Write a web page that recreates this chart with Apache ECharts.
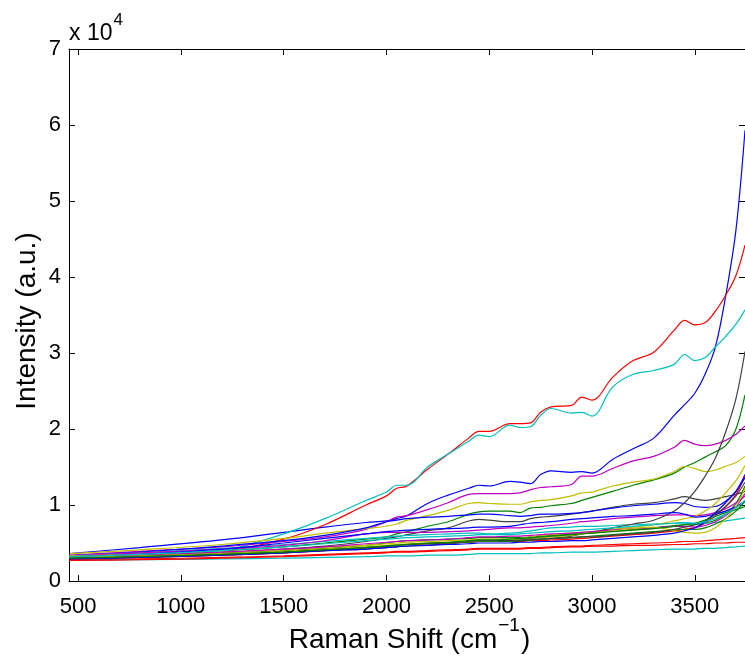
<!DOCTYPE html>
<html>
<head>
<meta charset="utf-8">
<script src="https://cdn.jsdelivr.net/npm/echarts@6/dist/echarts.min.js"></script>
<style>
  html, body { margin: 0; padding: 0; background: #fff; }
  #chart { width: 745px; height: 661px; }
</style>
</head>
<body>
<div id="chart"></div>
<script>
// Raman shift sample positions (cm^-1), shared by every spectrum
const ramanShift = [459, 800, 1200, 1500, 1700, 1900, 2000, 2050, 2100, 2200, 2300, 2400, 2450, 2500, 2600, 2650, 2700, 2750, 2800, 2900, 2950, 3000, 3100, 3200, 3300, 3400, 3450, 3500, 3550, 3600, 3650, 3700, 3744];

// Intensities in units of 10^4 counts, one array per spectrum (plot order)
const spec01 = [0.36, 0.44, 0.54, 0.64, 0.71, 0.77, 0.79, 0.82, 0.86, 1.02, 1.13, 1.22, 1.26, 1.25, 1.31, 1.30, 1.28, 1.40, 1.45, 1.43, 1.44, 1.42, 1.60, 1.74, 1.88, 2.18, 2.32, 2.47, 2.72, 3.08, 3.75, 4.62, 5.93];
const spec02 = [0.32, 0.35, 0.40, 0.45, 0.50, 0.55, 0.58, 0.62, 0.65, 0.72, 0.78, 0.88, 0.91, 0.92, 0.92, 0.90, 0.96, 0.97, 0.99, 1.02, 1.06, 1.10, 1.18, 1.26, 1.33, 1.42, 1.50, 1.56, 1.63, 1.70, 1.78, 2.00, 2.45];
const spec03 = [0.30, 0.33, 0.38, 0.55, 0.74, 1.00, 1.12, 1.22, 1.25, 1.47, 1.67, 1.88, 1.97, 1.97, 2.07, 2.07, 2.08, 2.22, 2.29, 2.31, 2.42, 2.38, 2.68, 2.90, 3.01, 3.30, 3.43, 3.37, 3.40, 3.55, 3.76, 4.02, 4.42];
const spec04 = [0.31, 0.34, 0.40, 0.62, 0.82, 1.06, 1.17, 1.26, 1.26, 1.50, 1.67, 1.84, 1.92, 1.90, 2.05, 2.02, 2.03, 2.18, 2.27, 2.21, 2.22, 2.17, 2.55, 2.72, 2.77, 2.85, 2.98, 2.90, 2.94, 3.08, 3.22, 3.38, 3.57];
const spec05 = [0.34, 0.39, 0.45, 0.52, 0.58, 0.68, 0.78, 0.84, 0.86, 0.94, 1.03, 1.14, 1.15, 1.15, 1.15, 1.16, 1.20, 1.23, 1.24, 1.27, 1.38, 1.38, 1.48, 1.58, 1.64, 1.76, 1.85, 1.80, 1.78, 1.80, 1.85, 1.93, 2.04];
const spec06 = [0.36, 0.41, 0.48, 0.56, 0.63, 0.69, 0.72, 0.75, 0.80, 0.86, 0.93, 1.02, 1.03, 1.02, 1.01, 1.01, 1.04, 1.06, 1.07, 1.12, 1.16, 1.17, 1.25, 1.30, 1.34, 1.44, 1.51, 1.48, 1.44, 1.46, 1.51, 1.56, 1.64];
const spec07 = [0.31, 0.33, 0.37, 0.42, 0.46, 0.52, 0.56, 0.58, 0.61, 0.66, 0.70, 0.79, 0.81, 0.80, 0.78, 0.78, 0.82, 0.84, 0.85, 0.88, 0.90, 0.92, 0.97, 1.01, 1.03, 1.08, 1.11, 1.08, 1.06, 1.08, 1.11, 1.14, 1.18];
const spec08 = [0.33, 0.38, 0.46, 0.53, 0.60, 0.70, 0.78, 0.80, 0.82, 0.84, 0.85, 0.87, 0.88, 0.88, 0.86, 0.85, 0.86, 0.88, 0.88, 0.89, 0.90, 0.92, 0.96, 0.99, 1.01, 1.03, 1.02, 0.98, 0.97, 0.98, 1.05, 1.18, 1.40];
const spec09 = [0.32, 0.34, 0.37, 0.40, 0.43, 0.47, 0.50, 0.52, 0.53, 0.54, 0.55, 0.56, 0.57, 0.57, 0.57, 0.57, 0.58, 0.59, 0.60, 0.62, 0.63, 0.64, 0.66, 0.68, 0.70, 0.73, 0.74, 0.74, 0.76, 0.80, 0.88, 1.02, 1.25];
const spec10 = [0.29, 0.31, 0.34, 0.37, 0.40, 0.44, 0.46, 0.47, 0.48, 0.49, 0.50, 0.51, 0.52, 0.52, 0.52, 0.52, 0.53, 0.53, 0.54, 0.55, 0.56, 0.57, 0.59, 0.61, 0.63, 0.66, 0.68, 0.70, 0.76, 0.86, 0.98, 1.14, 1.38];
const spec11 = [0.33, 0.37, 0.43, 0.48, 0.52, 0.56, 0.58, 0.59, 0.60, 0.61, 0.62, 0.63, 0.63, 0.62, 0.63, 0.64, 0.66, 0.68, 0.70, 0.71, 0.72, 0.72, 0.73, 0.74, 0.75, 0.76, 0.76, 0.75, 0.76, 0.77, 0.79, 0.81, 0.83];
const spec12 = [0.33, 0.37, 0.42, 0.47, 0.53, 0.62, 0.64, 0.64, 0.64, 0.64, 0.65, 0.66, 0.67, 0.68, 0.70, 0.70, 0.71, 0.72, 0.73, 0.76, 0.78, 0.79, 0.82, 0.84, 0.86, 0.87, 0.87, 0.86, 0.87, 0.90, 0.95, 1.03, 1.12];
const spec13 = [0.33, 0.35, 0.38, 0.41, 0.44, 0.47, 0.49, 0.50, 0.51, 0.52, 0.53, 0.54, 0.55, 0.55, 0.55, 0.56, 0.58, 0.60, 0.61, 0.63, 0.64, 0.65, 0.68, 0.71, 0.74, 0.79, 0.82, 0.85, 0.92, 1.02, 1.16, 1.32, 1.52];
const spec14 = [0.29, 0.31, 0.34, 0.37, 0.40, 0.42, 0.44, 0.45, 0.46, 0.47, 0.49, 0.52, 0.53, 0.53, 0.53, 0.53, 0.54, 0.55, 0.56, 0.59, 0.62, 0.64, 0.70, 0.75, 0.80, 0.92, 1.03, 1.18, 1.38, 1.62, 1.96, 2.40, 3.02];
const spec15 = [0.32, 0.35, 0.42, 0.50, 0.56, 0.62, 0.65, 0.66, 0.67, 0.68, 0.69, 0.70, 0.71, 0.71, 0.72, 0.74, 0.76, 0.77, 0.78, 0.81, 0.82, 0.83, 0.85, 0.86, 0.88, 0.90, 0.88, 0.84, 0.85, 0.88, 0.92, 0.98, 1.05];
const spec16 = [0.30, 0.32, 0.35, 0.38, 0.41, 0.44, 0.46, 0.47, 0.48, 0.49, 0.50, 0.51, 0.52, 0.52, 0.52, 0.53, 0.54, 0.55, 0.56, 0.57, 0.58, 0.59, 0.61, 0.63, 0.65, 0.67, 0.68, 0.68, 0.70, 0.75, 0.82, 0.92, 1.05];
const spec17 = [0.28, 0.29, 0.31, 0.33, 0.35, 0.37, 0.38, 0.39, 0.39, 0.40, 0.41, 0.42, 0.43, 0.43, 0.43, 0.43, 0.44, 0.44, 0.45, 0.46, 0.46, 0.47, 0.48, 0.49, 0.50, 0.51, 0.52, 0.52, 0.53, 0.54, 0.55, 0.56, 0.57];
const spec18 = [0.27, 0.28, 0.29, 0.30, 0.31, 0.32, 0.33, 0.33, 0.33, 0.34, 0.34, 0.35, 0.36, 0.36, 0.36, 0.36, 0.36, 0.37, 0.37, 0.38, 0.38, 0.38, 0.39, 0.40, 0.41, 0.42, 0.42, 0.42, 0.43, 0.43, 0.44, 0.45, 0.46];
const spec19 = [0.31, 0.34, 0.38, 0.42, 0.45, 0.49, 0.51, 0.52, 0.53, 0.54, 0.55, 0.57, 0.58, 0.58, 0.59, 0.59, 0.60, 0.61, 0.62, 0.63, 0.64, 0.65, 0.67, 0.69, 0.70, 0.72, 0.72, 0.71, 0.73, 0.78, 0.86, 0.98, 1.15];
const spec20 = [0.31, 0.33, 0.36, 0.39, 0.42, 0.45, 0.47, 0.48, 0.49, 0.50, 0.51, 0.52, 0.53, 0.53, 0.54, 0.55, 0.56, 0.57, 0.58, 0.60, 0.62, 0.63, 0.66, 0.69, 0.71, 0.66, 0.64, 0.63, 0.64, 0.70, 0.82, 0.98, 1.22];
const spec21 = [0.30, 0.32, 0.35, 0.38, 0.41, 0.44, 0.46, 0.47, 0.48, 0.49, 0.50, 0.52, 0.53, 0.53, 0.53, 0.54, 0.55, 0.55, 0.56, 0.57, 0.58, 0.58, 0.60, 0.62, 0.64, 0.68, 0.71, 0.74, 0.80, 0.88, 0.98, 1.12, 1.30];
const spec22 = [0.29, 0.31, 0.34, 0.37, 0.40, 0.42, 0.44, 0.45, 0.46, 0.47, 0.48, 0.49, 0.50, 0.50, 0.50, 0.51, 0.51, 0.52, 0.52, 0.53, 0.53, 0.54, 0.56, 0.58, 0.60, 0.63, 0.66, 0.70, 0.78, 0.90, 1.03, 1.18, 1.36];
const spec23 = [0.30, 0.32, 0.35, 0.38, 0.41, 0.44, 0.46, 0.47, 0.48, 0.50, 0.51, 0.53, 0.54, 0.54, 0.55, 0.56, 0.57, 0.58, 0.59, 0.61, 0.62, 0.63, 0.65, 0.67, 0.69, 0.72, 0.74, 0.76, 0.80, 0.85, 0.90, 0.94, 0.98];
const spec24 = [0.27, 0.28, 0.30, 0.32, 0.34, 0.36, 0.37, 0.38, 0.38, 0.39, 0.40, 0.41, 0.42, 0.42, 0.42, 0.42, 0.43, 0.43, 0.44, 0.45, 0.45, 0.46, 0.46, 0.47, 0.47, 0.48, 0.48, 0.49, 0.49, 0.50, 0.50, 0.51, 0.51];
const spec25 = [0.32, 0.35, 0.40, 0.45, 0.49, 0.53, 0.55, 0.56, 0.57, 0.58, 0.59, 0.60, 0.61, 0.61, 0.61, 0.62, 0.63, 0.64, 0.65, 0.66, 0.67, 0.68, 0.70, 0.72, 0.74, 0.76, 0.77, 0.76, 0.78, 0.82, 0.88, 0.96, 1.06];

const spectra = [spec01, spec02, spec03, spec04, spec05, spec06, spec07, spec08, spec09, spec10,
                 spec11, spec12, spec13, spec14, spec15, spec16, spec17, spec18, spec19, spec20,
                 spec21, spec22, spec23, spec24, spec25];

// Axis ticks
const xTicks = [500, 1000, 1500, 2000, 2500, 3000, 3500];
const yTicks = [0, 1, 2, 3, 4, 5, 6, 7];

// Classic line colour cycle: blue, green, red, cyan, magenta, yellow, dark grey
const colorCycle = ['#0000ff', '#008000', '#ff0000', '#00bfbf', '#bf00bf', '#bfbf00', '#404040'];

const FONT = '"Liberation Sans", Arial, Helvetica, sans-serif';

// Text width helper for placing superscripts next to their base text
const measureCtx = document.createElement('canvas').getContext('2d');
function textWidth(str, size) {
  measureCtx.font = size + 'px ' + FONT;
  return measureCtx.measureText(str).width;
}

const chart = echarts.init(document.getElementById('chart'), null, { renderer: 'canvas' });

const series = spectra.map((ys, i) => ({
  type: 'line',
  name: 'spectrum ' + (i + 1),
  xAxisIndex: 0,
  yAxisIndex: 0,
  data: ramanShift.map((x, j) => [x, ys[j]]),
  showSymbol: false,
  symbol: 'none',
  smooth: 0.35,
  lineStyle: { width: 1.2, color: colorCycle[i % colorCycle.length] },
  itemStyle: { color: colorCycle[i % colorCycle.length] },
  emphasis: { disabled: true },
  silent: true
}));

const xMin = 456, xMax = 3744;
const tickStyle = { show: true, inside: true, length: 6, lineStyle: { color: '#000', width: 1 } };

// x-axis title pieces: base text, superscript, closing bracket
const titleSize = 28, titleSupSize = 19;
const tBase = 'Raman Shift (cm', tSup = '\u22121', tEnd = ')';
const wBase = textWidth(tBase, titleSize);
const wSup = textWidth(tSup, titleSupSize);
const wEnd = textWidth(tEnd, titleSize);
const titleLeft = 409 - (wBase + wSup + 1 + wEnd) / 2;

// exponent label pieces
const expSize = 23, expSupSize = 17;
const wExpBase = textWidth('x 10', expSize);

chart.setOption({
  animation: false,
  backgroundColor: '#fff',
  grid: { left: 69, right: -1, top: 49, bottom: 80, containLabel: false },
  xAxis: [
    {
      type: 'value', position: 'bottom', min: xMin, max: xMax,
      axisLine: { show: true, onZero: false, lineStyle: { color: '#000', width: 1 } },
      axisTick: Object.assign({ customValues: xTicks }, tickStyle),
      axisLabel: { customValues: xTicks, color: '#000', fontSize: 22, fontFamily: FONT, margin: 15,
                   formatter: v => String(v) },
      splitLine: { show: false }
    },
    {
      type: 'value', position: 'top', min: xMin, max: xMax,
      axisLine: { show: true, onZero: false, lineStyle: { color: '#000', width: 1 } },
      axisTick: Object.assign({ customValues: xTicks }, tickStyle),
      axisLabel: { show: false },
      splitLine: { show: false }
    }
  ],
  yAxis: [
    {
      type: 'value', position: 'left', min: 0, max: 7, interval: 1,
      axisLine: { show: true, onZero: false, lineStyle: { color: '#000', width: 1 } },
      axisTick: tickStyle,
      axisLabel: { color: '#000', fontSize: 22, fontFamily: FONT, margin: 8,
                   formatter: v => (yTicks.indexOf(v) >= 0 ? String(v) : '') },
      splitLine: { show: false }
    },
    {
      type: 'value', position: 'right', min: 0, max: 7, interval: 1,
      axisLine: { show: true, onZero: false, lineStyle: { color: '#000', width: 1 } },
      axisTick: tickStyle,
      axisLabel: { show: false },
      splitLine: { show: false }
    }
  ],
  series: series,
  graphic: [
    {
      type: 'text', x: titleLeft, y: 640,
      style: { text: tBase, fill: '#000', fontSize: titleSize, fontFamily: FONT,
               align: 'left', verticalAlign: 'middle' }
    },
    {
      type: 'text', x: titleLeft + wBase + 1, y: 616,
      style: { text: tSup, fill: '#000', fontSize: titleSupSize, fontFamily: FONT,
               align: 'left', verticalAlign: 'top' }
    },
    {
      type: 'text', x: titleLeft + wBase + wSup + 2, y: 640,
      style: { text: tEnd, fill: '#000', fontSize: titleSize, fontFamily: FONT,
               align: 'left', verticalAlign: 'middle' }
    },
    {
      type: 'text', x: 27, y: 321, rotation: Math.PI / 2,
      style: { text: 'Intensity (a.u.)', fill: '#000', fontSize: 28, fontFamily: FONT,
               align: 'center', verticalAlign: 'middle' }
    },
    {
      type: 'text', x: 69, y: 45,
      style: { text: 'x 10', fill: '#000', fontSize: expSize, fontFamily: FONT,
               align: 'left', verticalAlign: 'bottom' }
    },
    {
      type: 'text', x: 69 + wExpBase + 1, y: 12,
      style: { text: '4', fill: '#000', fontSize: expSupSize, fontFamily: FONT,
               align: 'left', verticalAlign: 'top' }
    }
  ]
});
</script>
</body>
</html>
